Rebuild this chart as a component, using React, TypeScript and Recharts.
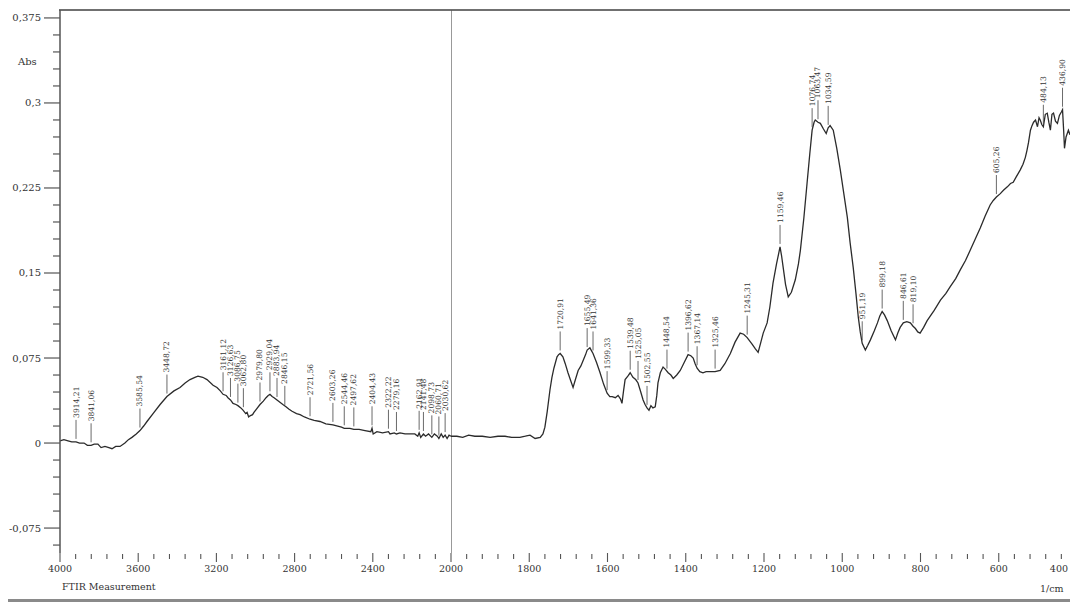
import React from 'react'
import { ComposedChart, Line, XAxis, YAxis, ReferenceLine } from 'recharts'

const FONT = "'DejaVu Serif', 'Liberation Serif', serif"

// absorbance spectrum, 4000-2000 1/cm (drawn on the compressed half of the axis)
const spectrumHigh: [number, number][] = [
    [4000, 0.002], [3980, 0.003], [3959, 0.002], [3940, 0.001], [3918, 0.001], [3900, 0.0], [3877, 0.0],
    [3860, -0.002], [3841, -0.002], [3825, -0.001], [3806, -0.001], [3790, -0.004], [3770, -0.003],
    [3750, -0.004], [3734, -0.005], [3715, -0.003], [3693, -0.003], [3668, 0.0], [3650, 0.003],
    [3632, 0.005], [3610, 0.008], [3591, 0.011], [3572, 0.015], [3555, 0.019], [3524, 0.026],
    [3488, 0.034], [3453, 0.041], [3417, 0.046], [3386, 0.049], [3360, 0.053], [3335, 0.056],
    [3310, 0.058], [3294, 0.059], [3270, 0.058], [3248, 0.056], [3217, 0.051], [3197, 0.049],
    [3180, 0.046], [3166, 0.043], [3150, 0.042], [3141, 0.040], [3128, 0.038], [3115, 0.035],
    [3100, 0.034], [3090, 0.033], [3075, 0.031], [3064, 0.029], [3050, 0.026], [3043, 0.027],
    [3035, 0.023], [3028, 0.024], [3015, 0.025], [3008, 0.027], [2995, 0.030], [2977, 0.034],
    [2960, 0.037], [2946, 0.040], [2935, 0.042], [2926, 0.043], [2915, 0.041], [2905, 0.040],
    [2890, 0.038], [2875, 0.036], [2860, 0.034], [2844, 0.032], [2830, 0.030], [2813, 0.028],
    [2790, 0.026], [2772, 0.025], [2750, 0.023], [2721, 0.021], [2700, 0.020], [2670, 0.019],
    [2640, 0.017], [2604, 0.016], [2560, 0.014], [2546, 0.013], [2517, 0.013], [2497, 0.012],
    [2470, 0.012], [2440, 0.011], [2410, 0.010], [2404, 0.013], [2398, 0.008], [2379, 0.010],
    [2350, 0.009], [2320, 0.010], [2312, 0.008], [2290, 0.009], [2279, 0.008], [2261, 0.009],
    [2235, 0.008], [2210, 0.008], [2185, 0.008], [2170, 0.006], [2163, 0.009], [2155, 0.005],
    [2141, 0.008], [2130, 0.006], [2115, 0.008], [2098, 0.005], [2085, 0.008], [2070, 0.006],
    [2062, 0.004], [2050, 0.008], [2040, 0.005], [2030, 0.007], [2020, 0.004], [2010, 0.007],
    [2000, 0.006],
]

// absorbance spectrum, 2000-400 1/cm (expanded half)
const spectrumLow: [number, number][] = [
    [2000, 0.006], [1985, 0.006], [1970, 0.005], [1955, 0.007], [1939, 0.006], [1920, 0.006],
    [1900, 0.005], [1880, 0.006], [1862, 0.006], [1845, 0.005], [1824, 0.005], [1810, 0.006],
    [1798, 0.007], [1785, 0.004], [1772, 0.005], [1765, 0.008], [1760, 0.014], [1754, 0.028],
    [1747, 0.047], [1742, 0.058], [1737, 0.066], [1729, 0.076], [1725, 0.078], [1721, 0.079],
    [1714, 0.076], [1708, 0.070], [1701, 0.062], [1694, 0.055], [1688, 0.049], [1682, 0.056],
    [1675, 0.064], [1668, 0.068], [1662, 0.073], [1656, 0.078], [1652, 0.082], [1645, 0.084],
    [1637, 0.079], [1628, 0.071], [1619, 0.062], [1610, 0.052], [1601, 0.044], [1594, 0.041],
    [1588, 0.041], [1580, 0.040], [1573, 0.042], [1567, 0.039], [1563, 0.035], [1559, 0.046],
    [1555, 0.056], [1548, 0.059], [1542, 0.062], [1535, 0.058], [1528, 0.056], [1522, 0.053],
    [1515, 0.045], [1509, 0.038], [1504, 0.034], [1499, 0.031], [1494, 0.029], [1489, 0.033],
    [1484, 0.031], [1478, 0.032], [1474, 0.042], [1471, 0.053], [1465, 0.062], [1458, 0.067],
    [1452, 0.065], [1445, 0.062], [1438, 0.060], [1432, 0.057], [1423, 0.060], [1414, 0.064],
    [1404, 0.071], [1394, 0.078], [1387, 0.077], [1381, 0.075], [1376, 0.070], [1371, 0.066],
    [1364, 0.063], [1356, 0.062], [1348, 0.063], [1338, 0.063], [1325, 0.063], [1312, 0.064],
    [1300, 0.070], [1286, 0.079], [1274, 0.089], [1261, 0.097], [1252, 0.096], [1243, 0.093],
    [1230, 0.087], [1222, 0.083], [1215, 0.080], [1208, 0.089], [1202, 0.097], [1192, 0.106],
    [1185, 0.120], [1177, 0.141], [1168, 0.158], [1159, 0.173], [1155, 0.165], [1151, 0.155],
    [1145, 0.140], [1138, 0.129], [1130, 0.133], [1120, 0.144], [1112, 0.158], [1107, 0.170],
    [1098, 0.199], [1090, 0.229], [1083, 0.255], [1077, 0.276], [1072, 0.283], [1069, 0.285],
    [1062, 0.283], [1056, 0.282], [1048, 0.277], [1041, 0.273], [1036, 0.278], [1031, 0.280],
    [1023, 0.276], [1014, 0.260], [1005, 0.241], [996, 0.220], [987, 0.199], [980, 0.177],
    [972, 0.155], [965, 0.132], [959, 0.111], [954, 0.098], [949, 0.088], [941, 0.082],
    [935, 0.086], [928, 0.091], [918, 0.099], [910, 0.106], [904, 0.112], [898, 0.116],
    [892, 0.113], [885, 0.108], [875, 0.099], [864, 0.091], [858, 0.097], [852, 0.102],
    [844, 0.106], [835, 0.107], [826, 0.106], [819, 0.103], [813, 0.101], [807, 0.098],
    [801, 0.097], [792, 0.102], [783, 0.108], [765, 0.117], [749, 0.126], [735, 0.132],
    [724, 0.138], [710, 0.145], [698, 0.153], [685, 0.161], [673, 0.170], [660, 0.180],
    [647, 0.190], [635, 0.200], [622, 0.210], [614, 0.214], [606, 0.217], [596, 0.220],
    [588, 0.223], [578, 0.226], [570, 0.229], [563, 0.230], [555, 0.235], [545, 0.241],
    [538, 0.246], [532, 0.252], [528, 0.258], [524, 0.265], [519, 0.276], [515, 0.280],
    [511, 0.283], [506, 0.285], [501, 0.279], [497, 0.287], [494, 0.285], [490, 0.281],
    [486, 0.279], [481, 0.290], [476, 0.291], [472, 0.283], [468, 0.276], [464, 0.290],
    [460, 0.291], [455, 0.284], [450, 0.282], [445, 0.289], [440, 0.292], [437, 0.294],
    [434, 0.275], [432, 0.260], [428, 0.270], [422, 0.276], [418, 0.272],
]

// picked peaks: wavenumber, absorbance at the mark, printed label
const peaksHigh: [number, number, string][] = [
    [3918, 0.001, '3914,21'], [3841, -0.002, '3841,06'], [3591, 0.011, '3585,54'], [3453, 0.041, '3448,72'],
    [3166, 0.043, '3161,12'], [3128, 0.038, '3126,63'], [3090, 0.033, '3086,75'], [3062, 0.029, '3062,80'],
    [2977, 0.034, '2979,80'], [2926, 0.043, '2929,04'], [2890, 0.038, '2883,94'], [2850, 0.031, '2846,15'],
    [2721, 0.021, '2721,56'], [2604, 0.016, '2603,26'], [2546, 0.013, '2544,46'], [2497, 0.012, '2497,62'],
    [2404, 0.013, '2404,43'], [2320, 0.010, '2322,22'], [2279, 0.008, '2279,16'], [2163, 0.009, '2162,91'],
    [2141, 0.008, '2141,48'], [2098, 0.005, '2098,73'], [2062, 0.004, '2060,71'], [2030, 0.007, '2030,62'],
]

const peaksLow: [number, number, string][] = [
    [1721, 0.079, '1720,91'], [1652, 0.082, '1655,49'], [1637, 0.079, '1641,36'], [1601, 0.044, '1599,33'],
    [1542, 0.062, '1539,48'], [1522, 0.053, '1525,05'], [1499, 0.031, '1502,55'], [1448, 0.063, '1448,54'],
    [1394, 0.078, '1396,62'], [1371, 0.066, '1367,14'], [1325, 0.063, '1325,46'], [1243, 0.093, '1245,31'],
    [1159, 0.173, '1159,46'], [1077, 0.276, '1076,74'], [1062, 0.283, '1063,47'], [1036, 0.278, '1034,59'],
    [949, 0.088, '951,19'], [898, 0.116, '899,18'], [844, 0.106, '846,61'], [819, 0.103, '819,10'],
    [606, 0.217, '605,26'], [486, 0.279, '484,13'], [437, 0.294, '436,90'],
]

const yMajorTicks = [-0.075, 0, 0.075, 0.15, 0.225, 0.3, 0.375]
const xMajorHigh = [4000, 3600, 3200, 2800, 2400, 2000]
const xMajorLow = [1800, 1600, 1400, 1200, 1000, 800, 600, 400]

const Y_MIN = -0.097
const Y_MAX = 0.382

// minor ticks every 0.015 Abs, 80 1/cm on the left half, 40 1/cm on the right half
const yTicks = Array.from({ length: 32 }, (_, i) => ((i - 6) * 15) / 1000)
const xTicksHigh = Array.from({ length: 26 }, (_, i) => 4000 - i * 80)
const xTicksLow = Array.from({ length: 40 }, (_, i) => 1960 - i * 40)

const highData = spectrumHigh.map(([wn, abs]) => ({ wn, abs }))
const lowData = spectrumLow.map(([wn, abs]) => ({ wn, abs }))
const highPeakData = peaksHigh.map(([wn, abs, label]) => ({ wn, abs, label }))
const lowPeakData = peaksLow.map(([wn, abs, label]) => ({ wn, abs, label }))

const fmt = (v: number) => String(v).replace('.', ',')

const YTick = ({ x, y, payload }: any) => {
    const major = yMajorTicks.some((m) => Math.abs(m - payload.value) < 1e-6)
    return (
        <g>
            <line x1={x - (major ? 16 : 7)} x2={x} y1={y} y2={y} stroke="#555" strokeWidth={1.2} />
            {major && (
                <text x={x - 19} y={y} textAnchor="end" dominantBaseline="central" fontSize={10} fill="#333" fontFamily={FONT}>
                    {fmt(payload.value)}
                </text>
            )}
        </g>
    )
}

// maxX keeps the last label inside the visible page
const makeXTick = (majors: number[], maxX: number) => ({ x, y, payload }: any) => {
    const major = majors.includes(payload.value)
    const clipped = x + 12 > maxX
    return (
        <g>
            <line x1={x} x2={x} y1={y + (major ? 0 : 1)} y2={y + (major ? 9 : 6)} stroke="#555" strokeWidth={1.1} />
            {major && (
                <text
                    x={clipped ? maxX : x}
                    y={y + 15}
                    textAnchor={clipped ? 'end' : 'middle'}
                    dominantBaseline="central"
                    fontSize={9.5}
                    fill="#333"
                    fontFamily={FONT}
                >
                    {payload.value}
                </text>
            )}
        </g>
    )
}

const PeakMark = ({ cx, cy, payload }: any) => {
    if (cx == null || cy == null) return <g />
    const top = cy - 22
    return (
        <g>
            <line x1={cx} x2={cx} y1={cy - 3} y2={top} stroke="#444" strokeWidth={0.8} />
            <text
                x={cx}
                y={top - 2}
                transform={`rotate(-90 ${cx} ${top - 2})`}
                dominantBaseline="central"
                fontSize={7.6}
                fill="#333"
                fontFamily={FONT}
            >
                {payload.label}
            </text>
        </g>
    )
}

const XTickHigh = makeXTick(xMajorHigh, 9999)
const XTickLow = makeXTick(xMajorLow, 1068 - 451)

export default function App() {
    return (
        <div style={{ position: 'absolute', left: 0, top: 0, width: 1070, height: 605, overflow: 'hidden', background: '#fff', fontFamily: FONT }}>
            {/* top frame line */}
            <div style={{ position: 'absolute', left: 59, top: 9, width: 1011, height: 2, background: '#707070' }} />

            {/* 4000 - 2000 */}
            <div style={{ position: 'absolute', left: 0, top: 0 }}>
                <ComposedChart width={480} height={605} data={highData} margin={{ top: 10, right: 29, bottom: 22, left: 0 }}>
                    <XAxis
                        type="number"
                        dataKey="wn"
                        domain={[2000, 4000]}
                        reversed
                        ticks={xTicksHigh}
                        interval={0}
                        axisLine={false}
                        tickLine={false}
                        tickSize={0}
                        tickMargin={0}
                        height={30}
                        tick={(p: any) => <XTickHigh key={`xh-${p.index}`} {...p} />}
                    />
                    <YAxis
                        type="number"
                        domain={[Y_MIN, Y_MAX]}
                        allowDataOverflow
                        ticks={yTicks}
                        interval={0}
                        width={60}
                        axisLine={{ stroke: '#555', strokeWidth: 1.5 }}
                        tickLine={false}
                        tickSize={0}
                        tickMargin={0}
                        tick={(p: any) => <YTick key={`y-${p.index}`} {...p} />}
                    />
                    <Line type="linear" dataKey="abs" stroke="#2b2b2b" strokeWidth={1.3} dot={false} activeDot={false} isAnimationActive={false} />
                    <Line
                        data={highPeakData}
                        type="linear"
                        dataKey="abs"
                        stroke="none"
                        activeDot={false}
                        isAnimationActive={false}
                        dot={(p: any) => <PeakMark key={`ph-${p.index}`} {...p} />}
                    />
                </ComposedChart>
            </div>

            {/* 2000 - 400 */}
            <div style={{ position: 'absolute', left: 451, top: 0 }}>
                <ComposedChart width={646} height={605} data={lowData} margin={{ top: 10, right: 20, bottom: 22, left: 0 }}>
                    <XAxis
                        type="number"
                        dataKey="wn"
                        domain={[400, 2000]}
                        reversed
                        ticks={xTicksLow}
                        interval={0}
                        axisLine={false}
                        tickLine={false}
                        tickSize={0}
                        tickMargin={0}
                        height={30}
                        tick={(p: any) => <XTickLow key={`xl-${p.index}`} {...p} />}
                    />
                    <YAxis hide type="number" domain={[Y_MIN, Y_MAX]} allowDataOverflow />
                    <ReferenceLine x={2000} stroke="#555" strokeWidth={1.2} />
                    <Line type="linear" dataKey="abs" stroke="#2b2b2b" strokeWidth={1.3} dot={false} activeDot={false} isAnimationActive={false} />
                    <Line
                        data={lowPeakData}
                        type="linear"
                        dataKey="abs"
                        stroke="none"
                        activeDot={false}
                        isAnimationActive={false}
                        dot={(p: any) => <PeakMark key={`pl-${p.index}`} {...p} />}
                    />
                </ComposedChart>
            </div>

            <div style={{ position: 'absolute', left: 18, top: 56, fontSize: 10, color: '#333' }}>Abs</div>
            <div style={{ position: 'absolute', left: 62, top: 581, fontSize: 9.5, color: '#333' }}>FTIR Measurement</div>
            <div style={{ position: 'absolute', left: 1040, top: 583, fontSize: 9.5, color: '#333' }}>1/cm</div>

            {/* bottom rule */}
            <div style={{ position: 'absolute', left: 8, top: 599, width: 1062, height: 3, background: '#8a8a8a' }} />
        </div>
    )
}
